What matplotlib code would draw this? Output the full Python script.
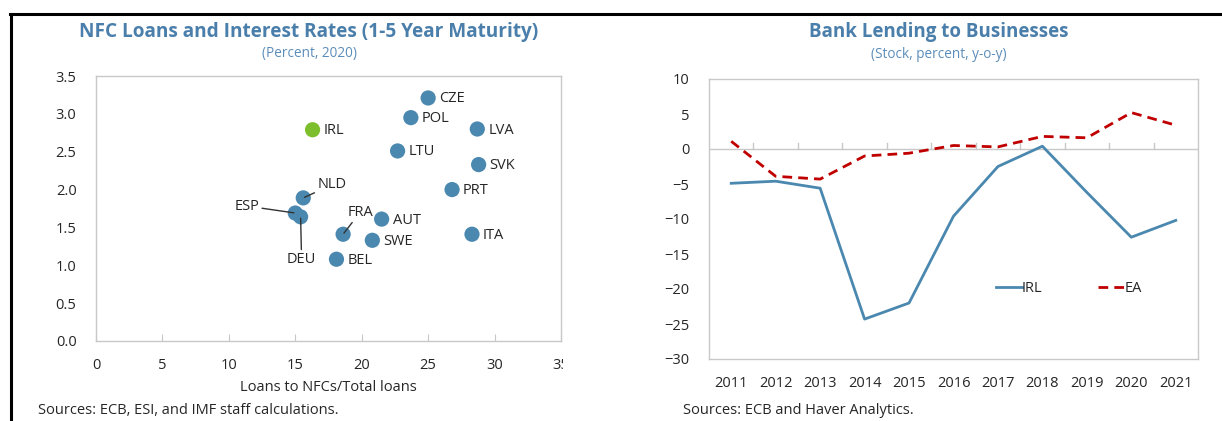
import matplotlib
matplotlib.use("Agg")
import matplotlib.pyplot as plt
from matplotlib.lines import Line2D
from matplotlib.patches import Rectangle

plt.rcParams['font.family'] = ['Open Sans', 'DejaVu Sans']

# ---- Left chart data ----
countries = ["IRL", "NLD", "ESP", "DEU", "FRA", "BEL", "CZE", "POL", "LVA",
             "LTU", "SVK", "PRT", "AUT", "SWE", "ITA"]
loans_share = [16.3, 15.6, 15.0, 15.4, 18.6, 18.1, 25.0, 23.7, 28.7,
               22.7, 28.8, 26.8, 21.5, 20.8, 28.3]
interest = [2.79, 1.89, 1.69, 1.64, 1.41, 1.08, 3.21, 2.95, 2.80,
            2.51, 2.33, 2.00, 1.61, 1.33, 1.41]
x_ticks_left = [0, 5, 10, 15, 20, 25, 30, 35]
y_ticks_left = [0.0, 0.5, 1.0, 1.5, 2.0, 2.5, 3.0, 3.5]

# ---- Right chart data ----
years = ["2011", "2012", "2013", "2014", "2015", "2016", "2017", "2018",
         "2019", "2020", "2021"]
irl = [-4.9, -4.6, -5.6, -24.3, -22.0, -9.6, -2.5, 0.4, -6.2, -12.6, -10.2]
ea = [1.1, -3.9, -4.3, -1.0, -0.6, 0.5, 0.3, 1.8, 1.6, 5.2, 3.4]
y_ticks_right = [10, 5, 0, -5, -10, -15, -20, -25, -30]

W, H = 1222, 421
fig = plt.figure(figsize=(W / 100, H / 100), dpi=100)

title_col = "#4A7EAB"
sub_col = "#5B8DBA"
blue = "#4A88AF"
green = "#7DBE2C"
red = "#C00000"
frame_col = "#C8C8C8"
text_col = "#262626"
fs = 10.5

def fx(px):
    return px / W

def fy(py):
    return 1 - py / H

# ---------------- Left axes ----------------
ax1 = fig.add_axes([fx(96), fy(341), (561 - 96) / W, (341 - 76) / H])
ax1.set_xlim(0, 35)
ax1.set_ylim(0, 3.5)
ax1.set_xticks(x_ticks_left)
ax1.set_yticks(y_ticks_left)
ax1.set_yticklabels([f"{v:.1f}" for v in y_ticks_left])
for s in ax1.spines.values():
    s.set_color(frame_col)
    s.set_linewidth(1.0)
ax1.tick_params(axis='x', direction='in', length=5, color=frame_col,
                labelsize=fs, labelcolor=text_col, pad=12)
ax1.tick_params(axis='y', length=0, labelsize=fs, labelcolor=text_col, pad=14)
ax1.set_xlabel("Loans to NFCs/Total loans", fontsize=fs, color=text_col, labelpad=5)

colors = [green if c == "IRL" else blue for c in countries]
ax1.scatter(loans_share, interest, s=120, c=colors, edgecolors='none', zorder=3)

special = {
    "NLD": ((14, 13), 'left', 'center'),
    "ESP": ((-36, 7), 'right', 'center'),
    "DEU": ((1, -43), 'center', 'center'),
    "FRA": ((17, 22), 'center', 'center'),
}
for c, x, y in zip(countries, loans_share, interest):
    if c in special:
        off, ha, va = special[c]
        ax1.annotate(c, (x, y), xytext=off, textcoords='offset pixels',
                     ha=ha, va=va, fontsize=fs, color=text_col,
                     arrowprops=dict(arrowstyle='-', color='#333333', lw=1.0,
                                     shrinkA=0, shrinkB=1), zorder=4)
    else:
        ax1.annotate(c, (x, y), xytext=(11, -1), textcoords='offset pixels',
                     ha='left', va='center', fontsize=fs, color=text_col, zorder=4)

fig.text(fx(309), fy(32), "NFC Loans and Interest Rates (1-5 Year Maturity)",
         ha='center', va='center', fontsize=13.7, fontweight='bold', color=title_col)
fig.text(fx(309), fy(54), "(Percent, 2020)", ha='center', va='center',
         fontsize=9.8, color=sub_col)
fig.text(fx(38), fy(411), "Sources: ECB, ESI, and IMF staff calculations.",
         ha='left', va='center', fontsize=fs, color=text_col)

# ---------------- Right axes ----------------
ax2 = fig.add_axes([fx(709), fy(359), (1198 - 709) / W, (359 - 79) / H])
xs = list(range(len(years)))
ax2.plot(xs, irl, color=blue, lw=2.0, label="IRL")
ax2.plot(xs, ea, color=red, lw=2.0, ls=(0, (3.5, 2.2)), label="EA")
ax2.set_xlim(-0.5, len(years) - 0.5)
ax2.set_ylim(-30, 10)
ax2.set_yticks(y_ticks_right)
ax2.set_xticks(xs)
ax2.set_xticklabels(years)
for s in ax2.spines.values():
    s.set_color(frame_col)
    s.set_linewidth(1.0)
ax2.tick_params(axis='x', length=0, labelsize=fs, labelcolor=text_col, pad=12)
ax2.tick_params(axis='y', length=0, labelsize=fs, labelcolor=text_col, pad=14)
ax2.axhline(0, color=frame_col, lw=1.0, zorder=1)
for b in range(1, len(years)):
    ax2.plot([b - 0.5, b - 0.5], [0, 0.9], color=frame_col, lw=1.0, zorder=1)
leg = ax2.legend(loc='upper left', bbox_to_anchor=((990 - 709) / 489, (359 - 275) / 280),
                 ncol=2, frameon=False, fontsize=fs, handlelength=1.8,
                 handletextpad=0.0, columnspacing=3.8, borderaxespad=0)
for t in leg.get_texts():
    t.set_color(text_col)

fig.text(fx(939), fy(32), "Bank Lending to Businesses", ha='center', va='center',
         fontsize=13.5, fontweight='bold', color=title_col)
fig.text(fx(939), fy(54), "(Stock, percent, y-o-y)", ha='center', va='center',
         fontsize=9.8, color=sub_col)
fig.text(fx(683), fy(411), "Sources: ECB and Haver Analytics.", ha='left',
         va='center', fontsize=fs, color=text_col)

# Clip the "35" tick label like the reference
fig.patches.append(Rectangle((fx(563), fy(375)), fx(40), (375 - 350) / H,
                             transform=fig.transFigure, facecolor='white',
                             edgecolor='none', zorder=10))

# Black border lines
fig.add_artist(Line2D([fx(10), 1], [fy(14), fy(14)], color='black', lw=2.2,
                      transform=fig.transFigure))
fig.add_artist(Line2D([fx(11), fx(11)], [fy(14), 0], color='black', lw=2.2,
                      transform=fig.transFigure))

fig.savefig("out.png", dpi=100)
